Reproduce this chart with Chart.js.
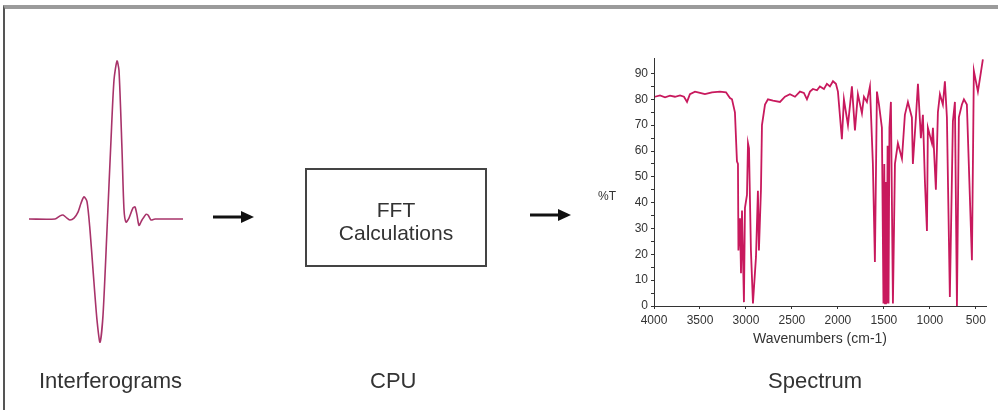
<!DOCTYPE html>
<html>
<head>
<meta charset="utf-8">
<script src="https://cdn.jsdelivr.net/npm/chart.js@4.4.0/dist/chart.umd.min.js"></script>
<style>
  html, body { margin: 0; padding: 0; background: #fff; }
  body { width: 998px; height: 410px; position: relative; overflow: hidden; font-family: "Liberation Sans", Arial, sans-serif; color: #333; }
  .frame { position: absolute; left: 3px; top: 5px; width: 1010px; height: 420px; border-top: 4px solid #9b9b9b; border-left: 2px solid #555; }
  .lbl { position: absolute; font-size: 22px; line-height: 22px; color: #333; white-space: nowrap; }
  .box { position: absolute; left: 305px; top: 168px; width: 182px; height: 99px; border: 2px solid #444; box-sizing: border-box; }
  .box div { position: absolute; left: 0; width: 100%; text-align: center; font-size: 21px; line-height: 22px; color: #333; }
  .pct { position: absolute; left: 598px; top: 189px; font-size: 12px; color: #333; }
  #ifgWrap { position: absolute; left: 29px; top: 55px; width: 154px; height: 295px; }
  #specWrap { position: absolute; left: 600px; top: 40px; width: 398px; height: 330px; }
</style>
</head>
<body>
<div class="frame"></div>

<div id="ifgWrap"><canvas id="ifgChart"></canvas></div>

<svg style="position:absolute;left:0;top:0" width="998" height="410">
  <g fill="#111" stroke="#111">
    <line x1="213" y1="217" x2="243" y2="217" stroke-width="3"/>
    <polygon points="241,211 254,217 241,223" stroke="none"/>
    <line x1="530" y1="215" x2="560" y2="215" stroke-width="3"/>
    <polygon points="558,209 571,215 558,221" stroke="none"/>
  </g>
</svg>

<div class="box">
  <div style="top:29px">FFT</div>
  <div style="top:52px">Calculations</div>
</div>

<div class="pct">%T</div>
<div id="specWrap"><canvas id="specChart"></canvas></div>

<div class="lbl" style="left:39px;top:370px">Interferograms</div>
<div class="lbl" style="left:370px;top:370px">CPU</div>
<div class="lbl" style="left:768px;top:370px">Spectrum</div>

<script>
// interferogram: retardation (arbitrary units) vs detector signal (normalised)
const retardation = [-88, -62, -57, -54, -50, -47, -43, -39, -36, -33, -30, -27, -24, -20, -17, -14, -10, -6, -3, 0, 2, 5, 7, 9, 12, 16, 18, 20, 22, 25, 29, 31, 34, 38, 66];
const signal = [0, 0, 0.02, 0.025, 0.006, -0.006, 0.006, 0.044, 0.10, 0.14, 0.11, -0.07, -0.32, -0.64, -0.78, -0.61, -0.07, 0.5, 0.88, 1.0, 0.94, 0.44, 0.06, -0.02, 0.006, 0.07, 0.076, 0.025, -0.04, -0.006, 0.03, 0.025, -0.006, 0, 0];

// IR spectrum: wavenumber (cm-1) vs %T
const wavenumbers = [3990, 3935, 3880, 3826, 3772, 3717, 3674, 3641, 3609, 3554, 3500, 3446, 3370, 3283, 3217, 3174, 3152, 3120, 3098, 3087, 3082, 3065, 3054, 3043, 3022, 3011, 2989, 2978, 2967, 2946, 2924, 2891, 2870, 2859, 2837, 2826, 2793, 2761, 2706, 2630, 2576, 2522, 2467, 2413, 2370, 2337, 2304, 2272, 2228, 2196, 2152, 2120, 2087, 2054, 2022, 2000, 1957, 1935, 1891, 1848, 1815, 1783, 1739, 1717, 1685, 1652, 1620, 1598, 1576, 1554, 1522, 1505, 1496, 1488, 1478, 1470, 1460, 1450, 1440, 1424, 1402, 1380, 1348, 1304, 1272, 1239, 1196, 1185, 1152, 1130, 1098, 1076, 1054, 1032, 1022, 978, 967, 935, 913, 891, 859, 837, 815, 783, 750, 728, 706, 685, 652, 630, 598, 543, 522, 478, 456, 424];
const transmittance = [81, 81.5, 80.8, 81.4, 81, 81.5, 81, 79, 82, 83, 82.5, 82, 82.7, 83, 82.7, 80.5, 80, 75, 56, 55, 21.5, 34, 12.7, 37, 1.5, 38, 43, 63, 61, 21.5, 1, 19, 44.6, 21.5, 45, 70, 78, 80, 79.5, 79, 81, 82, 81, 83, 82.5, 80, 83, 84, 83.5, 85, 84, 86, 85, 87, 86, 83, 64.6, 80, 70, 85, 68, 82, 74.6, 81, 79, 85, 55, 17, 83, 78, 69, 1, 55, 1, 48, 1, 62, 1, 69, 79, 1, 55, 63, 57, 74, 79, 73, 55, 73, 86, 65, 74, 48, 29, 69, 63, 69, 45, 75, 82, 78, 87, 73, 3.5, 71.5, 79, 0, 73, 78, 80, 78, 17.7, 91, 83, 88, 95.5];

const xTicks = [4000, 3500, 3000, 2500, 2000, 1500, 1000, 500];
const yTicks = [0, 5, 10, 15, 20, 25, 30, 35, 40, 45, 50, 55, 60, 65, 70, 75, 80, 85, 90];

Chart.defaults.font.family = '"Liberation Sans", Arial, sans-serif';
Chart.defaults.animation = false;

new Chart(document.getElementById('ifgChart').getContext('2d'), {
    type: 'line',
    data: {
        datasets: [{
            data: retardation.map((x, i) => ({ x: x, y: signal[i] })),
            borderColor: '#a8336a',
            borderWidth: 1.6,
            pointRadius: 0,
            tension: 0.25,
            fill: false,
            clip: false
        }]
    },
    options: {
        responsive: true,
        maintainAspectRatio: false,
        devicePixelRatio: 1,
        layout: { padding: 0 },
        plugins: { legend: { display: false }, tooltip: { enabled: false } },
        scales: {
            x: { type: 'linear', display: false, min: -88, max: 66 },
            y: { display: false, min: -0.829, max: 1.038 }
        }
    }
});

new Chart(document.getElementById('specChart').getContext('2d'), {
    type: 'line',
    data: {
        datasets: [{
            data: wavenumbers.map((x, i) => ({ x: x, y: transmittance[i] })),
            borderColor: '#c8195d',
            borderWidth: 1.8,
            pointRadius: 0,
            tension: 0,
            fill: false,
            clip: false
        }]
    },
    options: {
        responsive: true,
        maintainAspectRatio: false,
        devicePixelRatio: 1,
        layout: { padding: { left: 24, right: 12, top: 18, bottom: 20 } },
        plugins: { legend: { display: false }, tooltip: { enabled: false } },
        scales: {
            x: {
                type: 'linear',
                reverse: true,
                min: 390,
                max: 4000,
                afterBuildTicks: (scale) => { scale.ticks = xTicks.map(v => ({ value: v })); },
                afterFit: (scale) => { scale.height = 44; },
                border: { display: true, color: '#333', width: 1 },
                grid: { drawOnChartArea: false, tickLength: 3, color: '#333' },
                ticks: { color: '#333', font: { size: 12 }, padding: 4, maxRotation: 0, autoSkip: false, callback: (v) => String(v) },
                title: { display: true, text: 'Wavenumbers (cm-1)', color: '#333', font: { size: 14 }, padding: { top: 0, bottom: 2 } }
            },
            y: {
                min: 0,
                max: 96,
                afterBuildTicks: (scale) => { scale.ticks = yTicks.map(v => ({ value: v })); },
                afterFit: (scale) => { scale.width = 30; },
                border: { display: true, color: '#333', width: 1 },
                grid: { drawOnChartArea: false, tickLength: 3, color: '#333' },
                ticks: {
                    color: '#333',
                    font: { size: 12 },
                    padding: 3,
                    autoSkip: false,
                    callback: (v) => (v % 10 === 0 ? String(v) : '')
                }
            }
        }
    }
});
</script>
</body>
</html>
